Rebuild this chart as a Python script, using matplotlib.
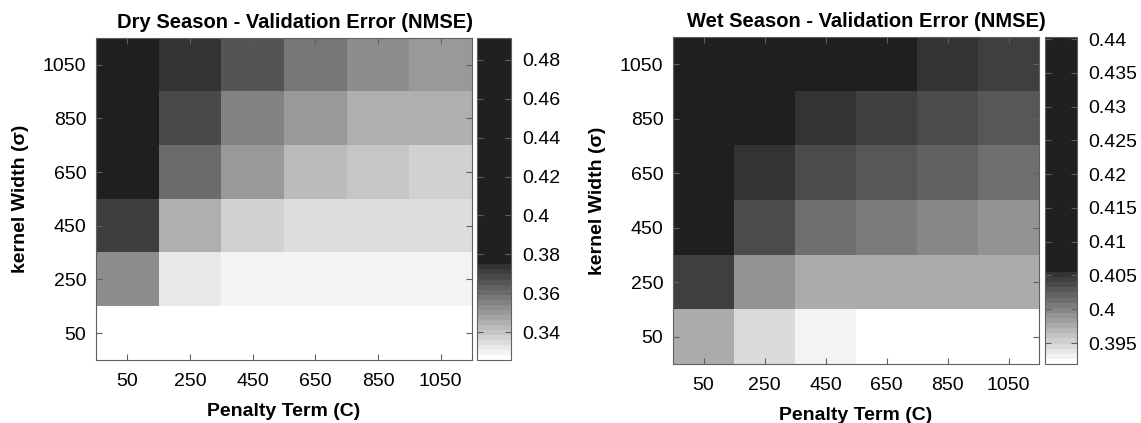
import matplotlib
matplotlib.use('Agg')
import matplotlib.pyplot as plt
import numpy as np
from matplotlib.colors import ListedColormap
from matplotlib.ticker import FuncFormatter

# grid values (rows: kernel width 50 -> 1050, cols: penalty 50 -> 1050)
kernel_width = [50, 250, 450, 650, 850, 1050]
penalty_term = [50, 250, 450, 650, 850, 1050]

dry_nmse = [
    [0.3256, 0.3256, 0.3256, 0.3256, 0.3256, 0.3256],
    [0.3536, 0.3330, 0.3295, 0.3295, 0.3295, 0.3295],
    [0.3706, 0.3459, 0.3363, 0.3335, 0.3335, 0.3335],
    [0.4300, 0.3607, 0.3498, 0.3429, 0.3393, 0.3366],
    [0.4700, 0.3688, 0.3556, 0.3498, 0.3459, 0.3441],
    [0.4913, 0.3724, 0.3649, 0.3592, 0.3516, 0.3498],
]
wet_nmse = [
    [0.3972, 0.3948, 0.3931, 0.3919, 0.3919, 0.3919],
    [0.4046, 0.3993, 0.3979, 0.3979, 0.3979, 0.3979],
    [0.4080, 0.4035, 0.4014, 0.4004, 0.3998, 0.3988],
    [0.4150, 0.4049, 0.4036, 0.4030, 0.4021, 0.4017],
    [0.4250, 0.4070, 0.4049, 0.4043, 0.4038, 0.4030],
    [0.4403, 0.4300, 0.4064, 0.4059, 0.4049, 0.4043],
]

dry_ticks = [0.34, 0.36, 0.38, 0.40, 0.42, 0.44, 0.46, 0.48]
wet_ticks = [0.395, 0.40, 0.405, 0.41, 0.415, 0.42, 0.425, 0.43, 0.435, 0.44]

plt.rcParams['font.family'] = ['Liberation Sans', 'DejaVu Sans']
plt.rcParams['font.size'] = 14

EDGE = '#606060'


def make_cmap(vmin, vmax, thr, n=64):
    # light-to-dark ramp at the bottom, constant dark above threshold
    n_ramp = int(round(n * (thr - vmin) / (vmax - vmin)))
    ramp = np.linspace(1.0, 0.2, n_ramp)
    dark = np.full(n - n_ramp, 0.125)
    g = np.concatenate([ramp, dark])
    return ListedColormap(np.stack([g, g, g], axis=1))


def draw_panel(fig, ax_rect, cb_rect, data, title, ticks, thr, title_x):
    ax = fig.add_axes(ax_rect)
    cax = fig.add_axes(cb_rect)
    data = np.array(data)
    vmin, vmax = data.min(), data.max()
    cmap = make_cmap(vmin, vmax, thr)
    im = ax.imshow(data, origin='lower', cmap=cmap, vmin=vmin, vmax=vmax,
                   extent=(-50, 1150, -50, 1150), aspect='auto',
                   interpolation='nearest')
    ax.set_xticks(penalty_term)
    ax.set_yticks(kernel_width)
    ax.tick_params(direction='in', top=True, right=True, length=4,
                   color=EDGE, labelsize=14)
    ax.tick_params(axis='x', pad=9)
    ax.tick_params(axis='y', pad=7)
    for s in ax.spines.values():
        s.set_color(EDGE)
    ax.set_xlabel('Penalty Term (C)', fontweight='bold', fontsize=14, labelpad=10)
    ax.set_ylabel('kernel Width (σ)', fontweight='bold', fontsize=14, labelpad=10)
    ax.set_title(title, fontweight='bold', fontsize=14.5, pad=7, x=title_x)

    cb = fig.colorbar(im, cax=cax, ticks=ticks)
    cb.outline.set_edgecolor(EDGE)
    cax.yaxis.set_major_formatter(FuncFormatter(lambda v, p: ('%g' % round(v, 4))))
    cax.tick_params(direction='in', left=True, right=True, length=4,
                    color=EDGE, labelsize=14, pad=8)
    return ax


fig = plt.figure(figsize=(11.41, 4.23), dpi=100)
W, H = 1141.0, 423.0


def rect(x0, y0, x1, y1):
    return [x0 / W, 1 - y1 / H, (x1 - x0) / W, (y1 - y0) / H]


draw_panel(fig, rect(96, 38, 472, 360), rect(477, 38, 511, 360),
           dry_nmse, 'Dry Season - Validation Error (NMSE)', dry_ticks, 0.3736,
           0.53)
draw_panel(fig, rect(673, 37, 1039, 364), rect(1045, 37, 1077, 364),
           wet_nmse, 'Wet Season - Validation Error (NMSE)', wet_ticks, 0.4054,
           0.527)

fig.savefig('out.png', dpi=100)
